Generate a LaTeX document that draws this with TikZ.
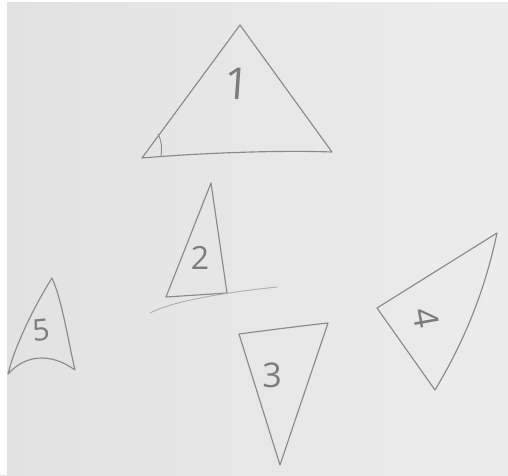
\documentclass[tikz,border=0pt]{standalone}
\usepackage{fontspec}
\setmainfont{Open Sans}
\definecolor{pencil}{HTML}{8A8A8A}
\definecolor{paperL}{HTML}{E2E2E2}
\definecolor{paperR}{HTML}{ECECEC}
\tikzset{
  pen/.style={draw=pencil, line width=1.15pt, line join=round, line cap=round},
  faint/.style={draw=pencil!70, line width=0.9pt, line cap=round},
  digit/.style={text=pencil!90!black, inner sep=0pt, font=\fontsize{#1}{#1}\selectfont},
}
\begin{document}
\begin{tikzpicture}[x=1pt,y=-1pt]
\useasboundingbox (0,0) rectangle (508,475);
\shade[left color=paperL, right color=paperR] (0,0) rectangle (508,475);
\fill[white] (0,0) rectangle (7,475);
\fill[white] (0,0) rectangle (508,2);
% triangle 1
\coordinate (a1) at (240,25);
\coordinate (b1) at (142,158);
\coordinate (c1) at (332,152);
\draw[pen] (a1) -- (b1) .. controls (200,153) and (280,150) .. (c1) -- cycle;
\draw[pen, line width=0.9pt] (158,134) .. controls (162,142) and (162,148) .. (161,156);
\node[digit=44, rotate=-4] (n1) at (237,84) {1};
% triangle 2
\coordinate (a2) at (211,183);
\coordinate (b2) at (166,297);
\coordinate (c2) at (227,293);
\draw[pen] (a2) -- (b2) -- (c2) -- cycle;
\coordinate (g1) at (150,313);
\coordinate (g2) at (277,287);
\draw[faint] (g1) .. controls (175,300) and (230,292) .. (g2);
\node[digit=32] (n2) at (200,258) {2};
% triangle 5
\coordinate (a5) at (52,278);
\coordinate (b5) at (8,374);
\coordinate (c5) at (75,370);
\draw[pen] (a5) .. controls (35,305) and (15,345) .. (b5)
  .. controls (25,355) and (50,352) .. (c5)
  .. controls (68,340) and (62,300) .. (a5);
\node[digit=30, rotate=5] (n5) at (41,330) {5};
% triangle 3
\coordinate (a3) at (239,334);
\coordinate (b3) at (328,323);
\coordinate (c3) at (280,465);
\draw[pen] (a3) .. controls (270,330) and (300,326) .. (b3) -- (c3) -- cycle;
\node[digit=34] (n3) at (272,375) {3};
% triangle 4
\coordinate (a4) at (497,233);
\coordinate (b4) at (377,308);
\coordinate (c4) at (435,390);
\draw[pen] (a4) -- (b4) -- (c4) .. controls (465,340) and (485,290) .. (a4);
\node[digit=34, rotate=-80] (n4) at (426,318) {4};
\end{tikzpicture}
\end{document}
